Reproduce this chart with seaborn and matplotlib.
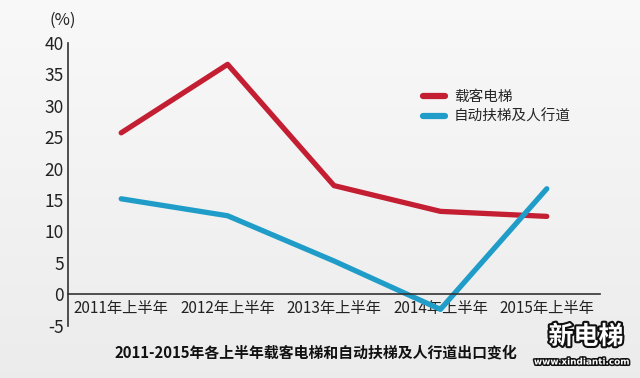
import matplotlib
matplotlib.use("Agg")
import matplotlib.pyplot as plt
import matplotlib.patheffects as pe
import seaborn as sns
import pandas as pd
import numpy as np

categories = ["2011年上半年", "2012年上半年", "2013年上半年", "2014年上半年", "2015年上半年"]
passenger = [25.7, 36.6, 17.3, 13.2, 12.4]
escalator = [15.2, 12.5, 5.3, -2.4, 16.8]
series_names = ["载客电梯", "自动扶梯及人行道"]
y_ticks = [-5, 0, 5, 10, 15, 20, 25, 30, 35, 40]
title = "2011-2015年各上半年载客电梯和自动扶梯及人行道出口变化"

sns.set_theme(style="white")
plt.rcParams['font.family'] = ['Noto Sans CJK SC', 'DejaVu Sans']

df = pd.DataFrame({
    "cat": categories * 2,
    "value": passenger + escalator,
    "series": [series_names[0]] * 5 + [series_names[1]] * 5,
})

fig = plt.figure(figsize=(6.4, 3.78), dpi=100)
fig.patch.set_facecolor("#f1f1f1")
# subtle background gradient
bg = fig.add_axes([0, 0, 1, 1], zorder=-10)
grad = np.linspace(0.975, 0.925, 256).reshape(-1, 1)
bg.imshow(np.dstack([grad, grad, grad]), aspect="auto", extent=[0, 1, 0, 1])
bg.axis("off")

ax = fig.add_axes([68/640, 1 - 325.7/378, 532/640, (325.7 - 43)/378])
ax.patch.set_alpha(0)

palette = {series_names[0]: "#c41e32", series_names[1]: "#1f9dc8"}
sns.lineplot(data=df, x="cat", y="value", hue="series", palette=palette,
             linewidth=3.8, ax=ax, sort=False)
for l in ax.get_lines():
    l.set_solid_capstyle("round")

ax.set_xlim(-0.5, 4.5)
ax.set_ylim(-5, 40)
ax.set_yticks(y_ticks)
ax.set_yticklabels([str(t) for t in y_ticks], fontsize=12.5, color="#222222")
ax.set_xlabel("")
ax.set_ylabel("")

ax.spines["top"].set_visible(False)
ax.spines["right"].set_visible(False)
ax.spines["bottom"].set_position(("data", 0))
for s in ["left", "bottom"]:
    ax.spines[s].set_color("#333333")
    ax.spines[s].set_linewidth(1.2)

ax.set_xticks(range(5))
ax.set_xticklabels(categories, fontsize=11, color="#222222")
ax.set_xticks([0.5, 1.5, 2.5, 3.5, 4.5], minor=True)
ax.tick_params(axis="x", which="major", length=0, pad=4)
ax.tick_params(axis="x", which="minor", direction="in", length=6, width=1.2, color="#333333")
ax.tick_params(axis="y", which="major", direction="in", length=6, width=1.2, color="#333333", pad=3)

fig.text(63/640, 1 - 20/378, "(%)", fontsize=12, ha="center", va="center", color="#222222")

handles, labels = ax.get_legend_handles_labels()
leg = ax.legend(handles, labels, loc="upper left", frameon=False,
                bbox_to_anchor=(410/640, 1 - 77/378), bbox_transform=fig.transFigure,
                fontsize=10.5, handlelength=1.5, labelspacing=0.4, handletextpad=0.6)
for h in leg.get_lines():
    h.set_linewidth(4.5)
    h.set_solid_capstyle("round")

fig.text(316/640, 1 - 352/378, title, fontsize=10.7, fontweight="bold",
         ha="center", va="center", color="#111111")

# watermark
fig.text(586/640, 1 - 337/378, "新电梯", fontsize=18, fontweight="bold", color="white",
         ha="center", va="center",
         path_effects=[pe.withStroke(linewidth=3, foreground="#111111")])
fig.text(582/640, 1 - 362/378, "www.xindianti.com", fontsize=6.4, fontweight="bold", color="white",
         ha="center", va="center", family=["DejaVu Sans"],
         path_effects=[pe.withStroke(linewidth=2.2, foreground="#111111")])

fig.savefig("out.png", dpi=100, facecolor=fig.get_facecolor())
